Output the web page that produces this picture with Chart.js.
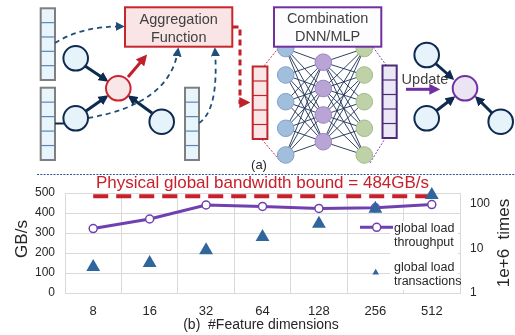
<!DOCTYPE html>
<html>
<head>
<meta charset="utf-8">
<script src="https://cdn.jsdelivr.net/npm/chart.js@4.4.1/dist/chart.umd.min.js"></script>
<style>
html,body{margin:0;padding:0;background:#fff;}
#wrap{position:relative;width:515px;height:335px;overflow:hidden;}
#c{position:absolute;left:0;top:0;}
#diag{position:absolute;left:0;top:0;}
</style>
</head>
<body>
<div id="wrap">
<canvas id="c" width="515" height="335"></canvas>
<svg id="diag" width="515" height="178" xmlns="http://www.w3.org/2000/svg" font-family="'Liberation Sans', Arial, sans-serif"></svg>
</div>
<script>
// ---------------- DATA ----------------
const categories = ['8', '16', '32', '64', '128', '256', '512'];
const throughput = [322, 370, 440, 433, 423, 426, 442];      // GB/s (left axis)
const transactions = [3.84, 4.72, 9.1, 18.1, 36, 78, 159];   // 1e+6 times (right log axis)
const bandwidthBound = 484;                                   // GB/s
const leftTicks = [0, 100, 200, 300, 400, 500];
const rightTicks = [1, 10, 100];

// ---------------- DIAGRAM (part a) ----------------
const NS = 'http://www.w3.org/2000/svg';
const svg = document.getElementById('diag');
function el(tag, attrs, parent) {
  const e = document.createElementNS(NS, tag);
  for (const k in attrs) e.setAttribute(k, attrs[k]);
  (parent || svg).appendChild(e);
  return e;
}
const defs = el('defs', {});
function marker(id, color, size) {
  const m = el('marker', {id: id, viewBox: '0 0 10 10', refX: '7', refY: '5', markerWidth: size, markerHeight: size,
    markerUnits: 'userSpaceOnUse', orient: 'auto'}, defs);
  el('path', {d: 'M0,0 L10,5 L0,10 z', fill: color}, m);
}
marker('mNavy', '#0e2a4f', 10);
marker('mNavyS', '#1f4e79', 9);
marker('mRed', '#c0202a', 11);
marker('mPurple', '#7030a0', 11);

function vecBox(x, y, w, h, fill, outer, inner) {
  el('rect', {x: x, y: y, width: w, height: h, fill: fill, stroke: 'none'});
  for (let i = 1; i < 5; i++) {
    const yy = y + h * i / 5;
    el('line', {x1: x, y1: yy, x2: x + w, y2: yy, stroke: inner, 'stroke-width': 1.2});
  }
  el('rect', {x: x, y: y, width: w, height: h, fill: 'none', stroke: outer, 'stroke-width': 2});
}
function node(cx, cy, r, fill, stroke, sw) {
  el('circle', {cx: cx, cy: cy, r: r, fill: fill, stroke: stroke, 'stroke-width': sw});
}
function text(x, y, s, size, color) {
  const t = el('text', {x: x, y: y, 'font-size': size, fill: color, 'text-anchor': 'middle', 'dominant-baseline': 'central'});
  t.textContent = s;
  return t;
}

// left input vectors
vecBox(40.7, 8.3, 14.3, 71.7, '#e8f5fc', '#7f7f7f', '#5a87b3');
vecBox(40.7, 87.7, 14.3, 72.3, '#e8f5fc', '#7f7f7f', '#5a87b3');
vecBox(185, 87.7, 14, 72.3, '#e8f5fc', '#7f7f7f', '#5a87b3');

// dashed navy curves to aggregation
el('path', {d: 'M55,43 Q82,26 122,26.5', fill: 'none', stroke: '#1f4e79', 'stroke-width': 1.8, 'stroke-dasharray': '5,4', 'marker-end': 'url(#mNavyS)'});
el('path', {d: 'M88,118 Q170,104 178,50', fill: 'none', stroke: '#1f4e79', 'stroke-width': 1.8, 'stroke-dasharray': '5,4', 'marker-end': 'url(#mNavyS)'});
el('path', {d: 'M199,123 Q219,110 215,50', fill: 'none', stroke: '#1f4e79', 'stroke-width': 1.8, 'stroke-dasharray': '5,4', 'marker-end': 'url(#mNavyS)'});
el('line', {x1: 55, y1: 123.5, x2: 64, y2: 123.5, stroke: '#0e2a4f', 'stroke-width': 2});

// arrows into center node
el('line', {x1: 85, y1: 66, x2: 106, y2: 80, stroke: '#0e2a4f', 'stroke-width': 3, 'marker-end': 'url(#mNavy)'});
el('line', {x1: 86, y1: 111, x2: 106, y2: 97, stroke: '#0e2a4f', 'stroke-width': 3, 'marker-end': 'url(#mNavy)'});
el('line', {x1: 152, y1: 113, x2: 130, y2: 97, stroke: '#0e2a4f', 'stroke-width': 3, 'marker-end': 'url(#mNavy)'});
el('line', {x1: 128, y1: 77, x2: 145, y2: 57, stroke: '#c0202a', 'stroke-width': 3, 'marker-end': 'url(#mRed)'});

node(75.7, 58.3, 12.3, '#e6f3fb', '#0e2a4f', 2);
node(75.7, 118.3, 12.3, '#e6f3fb', '#0e2a4f', 2);
node(161.7, 121.7, 12.3, '#e6f3fb', '#0e2a4f', 2);
node(118.3, 88.3, 12.3, '#f9e6e8', '#c9252c', 2);

// aggregation box
el('rect', {x: 125, y: 7.3, width: 107.3, height: 39.4, fill: '#f9e5e6', stroke: '#c9252c', 'stroke-width': 2});
text(178.7, 18.5, 'Aggregation', 14.5, '#404040');
text(178.7, 36.5, 'Function', 14.5, '#404040');

// red dashed connector
el('path', {d: 'M232.5,27 L240,27 L240,102.5 L247,102.5', fill: 'none', stroke: '#c0202a', 'stroke-width': 3, 'stroke-dasharray': '6,4', 'marker-end': 'url(#mRed)'});

// red vector
vecBox(252.7, 66.5, 14.7, 72.5, '#fbe6e7', '#c0252c', '#c0252c');

// dotted guide lines
el('line', {x1: 264, y1: 66, x2: 280, y2: 46, stroke: '#c0252c', 'stroke-width': 0.9, 'stroke-dasharray': '2,1.5'});
el('line', {x1: 262, y1: 139.5, x2: 281, y2: 162, stroke: '#c0252c', 'stroke-width': 0.9, 'stroke-dasharray': '2,1.5'});
el('line', {x1: 373, y1: 47, x2: 386, y2: 65, stroke: '#7030a0', 'stroke-width': 0.9, 'stroke-dasharray': '2,1.5'});
el('line', {x1: 370, y1: 163, x2: 385, y2: 138.5, stroke: '#7030a0', 'stroke-width': 0.9, 'stroke-dasharray': '2,1.5'});

// neural network
const c1y = [48.5, 75, 101.7, 128.3, 155], c2y = [62.2, 88.5, 115, 141.7];
const x1 = 285.7, x2 = 323.3, x3 = 364.3;
c1y.forEach(a => c2y.forEach(b => el('line', {x1: x1, y1: a, x2: x2, y2: b, stroke: '#1b2f55', 'stroke-width': 0.9})));
c2y.forEach(a => c1y.forEach(b => el('line', {x1: x2, y1: a, x2: x3, y2: b, stroke: '#1b2f55', 'stroke-width': 0.9})));
c1y.forEach(y => node(x1, y, 8.3, '#a2bedd', '#7f9fca', 1));
c2y.forEach(y => node(x2, y, 8.3, '#b9a5d5', '#9c83c0', 1));
c1y.forEach(y => node(x3, y, 8.3, '#bfd1a6', '#a3b98a', 1));

// combination box
el('rect', {x: 274, y: 7.3, width: 107.3, height: 39.4, fill: '#fdfcff', stroke: '#7030a0', 'stroke-width': 2});
text(327.6, 18.3, 'Combination', 14.5, '#404040');
text(327.6, 36.3, 'DNN/MLP', 14.5, '#404040');

// purple vector
vecBox(382.5, 65.5, 14.2, 72.5, '#ece7f4', '#4b2a7a', '#4b2a7a');

// update
text(425, 78.5, 'Update', 14.5, '#404040');
el('line', {x1: 406, y1: 89.3, x2: 437, y2: 89.3, stroke: '#7030a0', 'stroke-width': 3, 'marker-end': 'url(#mPurple)'});

// right graph
el('line', {x1: 435, y1: 63, x2: 452, y2: 78, stroke: '#0e2a4f', 'stroke-width': 3, 'marker-end': 'url(#mNavy)'});
el('line', {x1: 436, y1: 111, x2: 453, y2: 98, stroke: '#0e2a4f', 'stroke-width': 3, 'marker-end': 'url(#mNavy)'});
el('line', {x1: 492, y1: 113, x2: 477, y2: 98, stroke: '#0e2a4f', 'stroke-width': 3, 'marker-end': 'url(#mNavy)'});
node(426.7, 55, 12.3, '#e6f3fb', '#0e2a4f', 2);
node(426.7, 118.3, 12.3, '#e6f3fb', '#0e2a4f', 2);
node(500.7, 121.7, 12.3, '#e6f3fb', '#0e2a4f', 2);
node(465, 88.3, 12.3, '#ebe5f3', '#7030a0', 2);

text(259, 164.5, '(a)', 13, '#262626');

// separator
el('line', {x1: 37, y1: 174.5, x2: 515, y2: 174.5, stroke: '#2f5597', 'stroke-width': 1, 'stroke-dasharray': '2,1.3'});

// ---------------- CHART (part b) ----------------
const FONT = '"Liberation Sans", Arial, sans-serif';
Chart.defaults.font.family = FONT;
Chart.defaults.color = '#262626';
const GRID = '#d9d9d9';
const RED = '#c8202a';
const PURPLE = '#7040b0';
const BLUE = '#30669c';

const overlay = {
  id: 'overlay',
  afterDraw(chart) {
    const {ctx, chartArea: a} = chart;
    ctx.save();
    ctx.textBaseline = 'middle';
    // main title
    ctx.fillStyle = RED;
    ctx.font = '17px ' + FONT;
    ctx.textAlign = 'center';
    ctx.fillText('Physical global bandwidth bound = ' + bandwidthBound + 'GB/s', (a.left + a.right) / 2, a.top - 10);
    // axis titles
    ctx.fillStyle = '#262626';
    ctx.font = '17px ' + FONT;
    ctx.save(); ctx.translate(22, 239); ctx.rotate(-Math.PI / 2); ctx.fillText('GB/s', 0, 0); ctx.restore();
    ctx.save(); ctx.translate(504, 243); ctx.rotate(-Math.PI / 2); ctx.fillText('1e+6  times', 0, 0); ctx.restore();
    ctx.font = '14px ' + FONT;
    ctx.fillText('(b)  #Feature dimensions', 261, 325.5);
    // legend
    ctx.fillStyle = '#ffffff';
    ctx.fillRect(390, 221, 68, 69);
    const d0 = chart.data.datasets[0], d1 = chart.data.datasets[1];
    ctx.strokeStyle = d0.borderColor; ctx.lineWidth = 3;
    ctx.beginPath(); ctx.moveTo(360, 227.3); ctx.lineTo(393, 227.3); ctx.stroke();
    ctx.fillStyle = '#fff'; ctx.lineWidth = 1.5;
    ctx.beginPath(); ctx.arc(376.7, 227.3, 4, 0, Math.PI * 2); ctx.fill(); ctx.stroke();
    Chart.helpers.drawPoint(ctx, {pointStyle: 'triangle', radius: 3.6, borderWidth: 0}, 375.7, 272.5);
    ctx.fillStyle = d1.backgroundColor;
    ctx.beginPath();
    const r = 3.8, cx = 375.7, cy = 272.6;
    ctx.moveTo(cx, cy - r); ctx.lineTo(cx + r * 0.866, cy + r * 0.5); ctx.lineTo(cx - r * 0.866, cy + r * 0.5); ctx.closePath(); ctx.fill();
    ctx.fillStyle = '#262626';
    ctx.font = '12.5px ' + FONT;
    ctx.textAlign = 'left';
    ctx.fillText('global load', 394, 228.3);
    ctx.fillText('throughput', 394, 242.7);
    ctx.fillText('global load', 394, 267.5);
    ctx.fillText('transactions', 394, 282);
    ctx.restore();
  }
};

new Chart(document.getElementById('c'), {
  data: {
    labels: categories,
    datasets: [
      {
        type: 'line', label: 'global load throughput', data: throughput, yAxisID: 'y',
        borderColor: PURPLE, borderWidth: 3, pointRadius: 4, pointBorderWidth: 1.5,
        pointBackgroundColor: '#ffffff', pointBorderColor: PURPLE, order: 1, tension: 0
      },
      {
        type: 'line', label: 'global load transactions', data: transactions, yAxisID: 'y1',
        showLine: false, pointStyle: 'triangle', pointRadius: 8, pointBorderWidth: 0,
        backgroundColor: BLUE, pointBackgroundColor: BLUE, borderColor: BLUE, order: 0, clip: false
      },
      {
        type: 'line', label: 'bound', data: categories.map(() => bandwidthBound), yAxisID: 'y',
        borderColor: RED, borderWidth: 4, borderDash: [15, 8], pointRadius: 0, order: 2
      }
    ]
  },
  options: {
    responsive: false,
    animation: false,
    devicePixelRatio: 1,
    layout: {padding: {top: 193, left: 0, right: 0, bottom: 0}},
    plugins: {legend: {display: false}, tooltip: {enabled: false}, title: {display: false}},
    scales: {
      x: {
        type: 'category', offset: true,
        grid: {color: GRID, offset: true, drawTicks: false},
        border: {color: GRID},
        ticks: {font: {size: 13}, color: '#262626', padding: 11, maxRotation: 0},
        afterFit: s => { s.height = 42; }
      },
      y: {
        position: 'left', min: 0, max: 500,
        grid: {color: GRID, drawTicks: false},
        border: {color: GRID},
        ticks: {font: {size: 12}, color: '#262626', padding: 10, stepSize: 100},
        afterBuildTicks: s => { s.ticks = leftTicks.map(v => ({value: v})); },
        afterFit: s => { s.width = 65; }
      },
      y1: {
        type: 'logarithmic', position: 'right', min: 1, max: 177,
        grid: {display: false, drawTicks: false},
        border: {display: false},
        ticks: {font: {size: 12}, color: '#262626', padding: 10, callback: v => String(v)},
        afterBuildTicks: s => { s.ticks = rightTicks.map(v => ({value: v})); },
        afterFit: s => { s.width = 55; }
      }
    }
  },
  plugins: [overlay]
});
</script>
</body>
</html>
